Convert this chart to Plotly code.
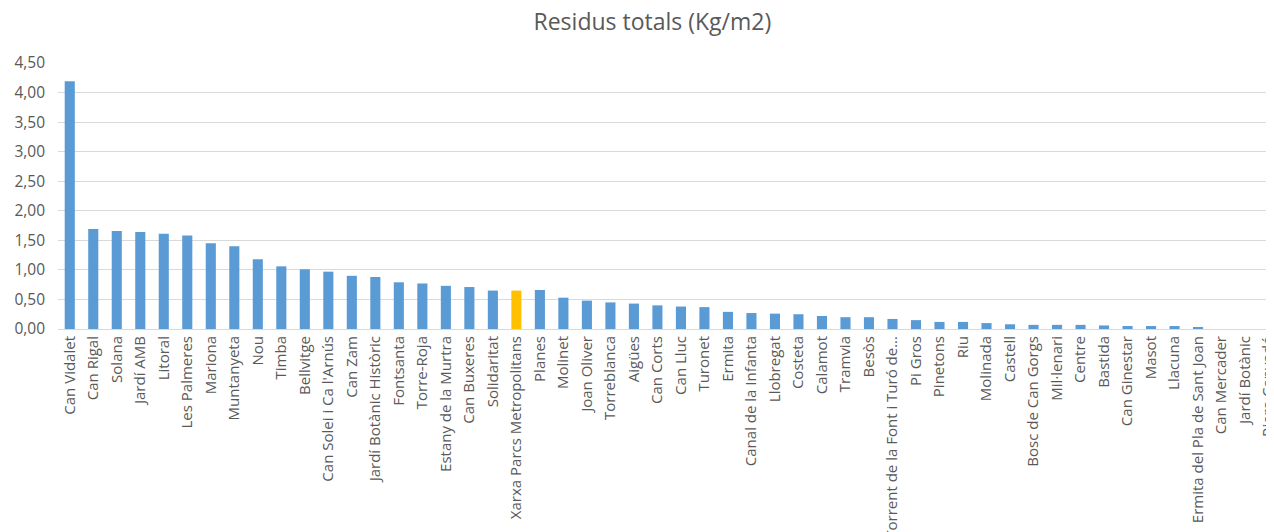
import plotly.graph_objects as go

categories = [
    "Can Vidalet", "Can Rigal", "Solana", "Jardí AMB", "Litoral", "Les Palmeres",
    "Mariona", "Muntanyeta", "Nou", "Timba", "Bellvitge", "Can Solei i Ca l'Arnús",
    "Can Zam", "Jardí Botànic Històric", "Fontsanta", "Torre-Roja", "Estany de la Murtra",
    "Can Buxeres", "Solidaritat", "Xarxa Parcs Metropolitans", "Planes", "Molinet",
    "Joan Oliver", "Torreblanca", "Aigües", "Can Corts", "Can Lluc", "Turonet", "Ermita",
    "Canal de la Infanta", "Llobregat", "Costeta", "Calamot", "Tramvia", "Besòs",
    "Torrent de la Font i Turó de...", "Pi Gros", "Pinetons", "Riu", "Molinada", "Castell",
    "Bosc de Can Gorgs", "Mil·lenari", "Centre", "Bastida", "Can Ginestar", "Masot",
    "Llacuna", "Ermita del Pla de Sant Joan", "Can Mercader", "Jardí Botànic", "Riera Canyadó",
]

values = [
    4.19, 1.69, 1.66, 1.64, 1.61, 1.58,
    1.45, 1.40, 1.18, 1.06, 1.01, 0.97,
    0.90, 0.88, 0.79, 0.77, 0.73,
    0.71, 0.65, 0.65, 0.66, 0.53,
    0.48, 0.45, 0.43, 0.40, 0.38, 0.37, 0.29,
    0.27, 0.26, 0.25, 0.22, 0.20, 0.20,
    0.17, 0.15, 0.12, 0.12, 0.10, 0.08,
    0.07, 0.07, 0.07, 0.06, 0.05, 0.05,
    0.05, 0.03, 0.0, 0.0, 0.0,
]

highlight = "Xarxa Parcs Metropolitans"
colors = ["#ffc000" if c == highlight else "#5b9bd5" for c in categories]

fig = go.Figure(go.Bar(
    x=categories, y=values, marker=dict(color=colors, line=dict(width=0)),
))

font = "Open Sans, Liberation Sans, sans-serif"
fig.update_layout(
    width=1266, height=524,
    margin=dict(l=50, r=0, t=55, b=203),
    paper_bgcolor="white", plot_bgcolor="white",
    separators=",.",
    bargap=0.57,
    showlegend=False,
    title=dict(text="Residus totals (Kg/m2)", x=0.509, xanchor="center", y=0.973, yanchor="middle",
               font=dict(family=font, size=23, color="#595959")),
    font=dict(family=font, color="#595959"),
)
fig.update_xaxes(
    type="category", range=[-0.5, 51.23], tickangle=-90, automargin=False,
    tickfont=dict(size=15, color="#595959"), showgrid=False,
    showline=True, linecolor="#d9d9d9", linewidth=1, ticks="",
)
fig.update_yaxes(
    range=[0, 4.5], dtick=0.5, tickformat=".2f", automargin=False,
    showgrid=True, gridcolor="#d9d9d9", gridwidth=1, zeroline=False,
    tickfont=dict(size=15.5, color="#595959"), ticklabelstandoff=12,
)

fig.write_html("out.html")
